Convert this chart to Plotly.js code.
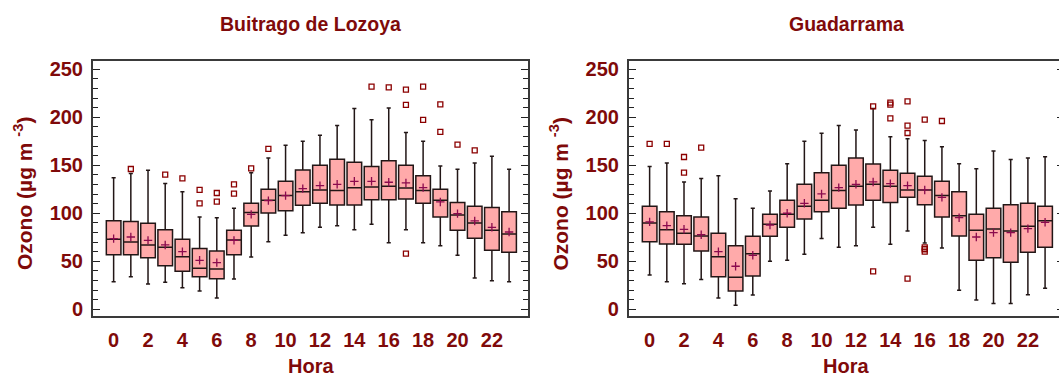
<!DOCTYPE html>
<html>
<head>
<meta charset="utf-8">
<script src="https://cdn.plot.ly/plotly-3.0.1.min.js"></script>
<style>
  html, body { margin: 0; padding: 0; background: #fff; overflow: hidden; }
  #chart { width: 1070px; height: 376px; }
</style>
</head>
<body>
<div id="chart"></div>
<script>
// Hourly ozone distributions (µg m-3) at two stations
const hours = [0,1,2,3,4,5,6,7,8,9,10,11,12,13,14,15,16,17,18,19,20,21,22,23];
const xTickVals = [0,2,4,6,8,10,12,14,16,18,20,22];
const yTickVals = [0,50,100,150,200,250];

const stationA = "Buitrago de Lozoya";
const stationB = "Guadarrama";

// Buitrago de Lozoya
const aLow    = [28.8,34.0,26.4,28.1,22.5,19.1,11.8,31.6,54.5,70.4,77.1,79.8,85.4,87.1,82.9,88.5,69.4,82.9,69.4,66.3,56.2,32.6,29.8,28.8];
const aQ1     = [56.9,56.9,53.8,45.4,39.5,34.0,31.9,56.9,86.8,100.3,102.7,108.3,110.4,108.6,108.6,114.2,114.2,114.9,110.4,96.1,82.3,73.9,61.4,59.3];
const aMedian = [72.9,70.1,67.0,64.5,54.8,42.7,42.0,72.2,100.7,113.5,118.4,122.5,124.3,123.6,126.7,127.4,128.1,126.4,123.6,113.5,98.2,89.9,82.3,78.4];
const aQ3     = [92.3,91.3,89.6,82.9,72.9,63.2,60.7,82.3,110.4,125.0,133.3,145.1,150.0,156.2,153.1,148.6,154.8,150.0,139.2,125.0,111.1,107.3,105.9,101.7];
const aHigh   = [137.1,141.3,144.8,130.9,122.5,96.1,95.4,105.2,142.3,157.6,170.8,175.0,181.2,191.3,209.0,197.5,209.7,184.0,175.0,149.3,145.8,152.4,159.3,145.8];
const aMean   = [73.6,75.3,71.8,67.0,60.0,51.0,48.6,71.8,98.9,113.2,118.4,125.7,128.8,130.2,133.3,133.3,132.3,131.6,126.7,111.8,99.6,92.0,85.4,80.5];
const aOutX   = [1,3,4,5,5,6,6,7,7,8,9,15,16,17,17,17,18,18,19,19,20,21];
const aOutY   = [146.1,140.2,136.4,124.3,110.4,121.1,112.1,130.2,120.4,146.8,167.0,231.9,231.2,228.8,212.8,57.9,231.9,197.2,213.5,184.7,171.5,165.6];

// Guadarrama
const bLow    = [35.7,28.8,26.7,30.9,11.8,4.1,14.9,50.0,51.0,57.3,73.6,64.5,66.3,85.4,67.7,81.6,69.1,63.9,19.8,9.7,5.9,5.9,15.2,21.8];
const bQ1     = [70.4,68.0,67.7,60.7,34.0,19.1,34.7,76.0,85.4,94.1,101.7,105.2,108.6,113.5,111.1,116.6,109.0,96.1,76.4,51.0,53.8,48.9,59.3,64.5];
const bMedian = [89.9,82.9,79.1,76.4,54.8,33.3,57.9,88.5,98.9,107.3,113.5,123.6,128.1,130.2,128.1,124.3,124.3,118.4,97.5,82.3,83.6,81.6,86.4,92.3];
const bQ3     = [107.3,101.7,97.5,96.1,79.1,66.3,76.0,98.9,113.5,130.2,142.3,150.0,157.6,151.4,144.8,141.6,138.5,133.3,122.5,98.9,105.2,109.0,110.4,107.3];
const bHigh   = [148.6,152.4,132.6,136.1,139.2,115.2,105.2,123.2,151.7,175.0,183.3,191.3,186.8,209.0,179.8,177.7,175.7,169.4,151.7,146.5,164.9,155.9,157.6,159.0];
const bMean   = [91.0,87.1,83.3,77.7,60.0,44.8,56.2,87.8,100.0,110.4,120.1,126.7,130.2,132.6,130.9,128.8,124.3,116.6,95.4,75.3,79.8,79.8,84.0,90.6];
const bOutX   = [0,1,2,2,3,13,13,14,14,14,15,15,15,15,16,16,16,16,17];
const bOutY   = [172.2,172.2,158.6,142.3,168.4,211.4,39.5,215.2,213.2,198.9,216.6,191.3,183.6,31.9,197.5,64.5,62.5,60.0,196.1];

const dark = '#7f0a0a';
const fontFam = '"Liberation Sans", Arial, sans-serif';

function boxTrace(xa, ya, lo, q1, med, q3, hi) {
  return {
    type: 'box', x: hours, q1: q1, median: med, q3: q3,
    lowerfence: lo, upperfence: hi, boxpoints: false,
    width: 0.85, whiskerwidth: 0.28,
    fillcolor: '#ffaaaa', line: { color: '#221616', width: 1.5 },
    xaxis: xa, yaxis: ya, hoverinfo: 'skip'
  };
}
function meanTrace(xa, ya, m) {
  return {
    type: 'scatter', mode: 'markers', x: hours, y: m, xaxis: xa, yaxis: ya,
    marker: { symbol: 'cross-thin', size: 6, line: { color: '#8b0a4e', width: 1.3 } },
    hoverinfo: 'skip'
  };
}
function outlierTrace(xa, ya, ox, oy) {
  return {
    type: 'scatter', mode: 'markers', x: ox, y: oy, xaxis: xa, yaxis: ya,
    marker: { symbol: 'square-open', size: 5, color: '#8b0000', line: { width: 1.3 } },
    hoverinfo: 'skip'
  };
}

const traces = [
  boxTrace('x', 'y', aLow, aQ1, aMedian, aQ3, aHigh),
  meanTrace('x', 'y', aMean),
  outlierTrace('x', 'y', aOutX, aOutY),
  boxTrace('x2', 'y2', bLow, bQ1, bMedian, bQ3, bHigh),
  meanTrace('x2', 'y2', bMean),
  outlierTrace('x2', 'y2', bOutX, bOutY)
];

function xAxis(domain) {
  return {
    domain: domain, range: [-1.2, 24.1], showgrid: false, zeroline: false,
    showline: true, linecolor: '#3a3a3a', linewidth: 2, mirror: true,
    ticks: '', tickmode: 'array', tickvals: xTickVals,
    ticktext: xTickVals.map(String), ticklabelstandoff: 5,
    tickfont: { family: fontFam, size: 20, color: dark, weight: 'bold' }
  };
}
function yAxis(anchor) {
  return {
    anchor: anchor, range: [-7, 258.6], showgrid: false, zeroline: false,
    showline: true, linecolor: '#3a3a3a', linewidth: 2, mirror: 'ticks',
    ticks: 'inside', ticklen: 7, tickwidth: 1.5, tickcolor: '#222',
    tickmode: 'array', tickvals: yTickVals, ticktext: yTickVals.map(String),
    ticklabelstandoff: 4,
    minor: { dtick: 10, tick0: 0, ticks: 'inside', ticklen: 5, tickwidth: 1, tickcolor: '#222' },
    tickfont: { family: fontFam, size: 20, color: dark, weight: 'bold' }
  };
}

const domA = [0, 0.448];
const domB = [0.552, 1];
const midA = (domA[0] + domA[1]) / 2;
const midB = (domB[0] + domB[1]) / 2;
const yTitle = 'Ozono (µg m <sup>-3</sup>)';

const annFont = { family: fontFam, color: dark, weight: 'bold' };
const layout = {
  width: 1070, height: 376,
  margin: { l: 93, r: 6, t: 61, b: 60 },
  paper_bgcolor: '#fff', plot_bgcolor: '#fff',
  showlegend: false,
  xaxis: xAxis(domA), yaxis: yAxis('x'),
  xaxis2: xAxis(domB), yaxis2: yAxis('x2'),
  annotations: [
    { text: stationA, x: midA, y: 1.145, xref: 'paper', yref: 'paper', showarrow: false,
      xanchor: 'center', yanchor: 'middle', font: Object.assign({ size: 19.5 }, annFont) },
    { text: stationB, x: midB, y: 1.145, xref: 'paper', yref: 'paper', showarrow: false,
      xanchor: 'center', yanchor: 'middle', font: Object.assign({ size: 19.5 }, annFont) },
    { text: 'Hora', x: midA, y: -0.197, xref: 'paper', yref: 'paper', showarrow: false,
      xanchor: 'center', yanchor: 'middle', font: Object.assign({ size: 20 }, annFont) },
    { text: 'Hora', x: midB, y: -0.197, xref: 'paper', yref: 'paper', showarrow: false,
      xanchor: 'center', yanchor: 'middle', font: Object.assign({ size: 20 }, annFont) },
    { text: yTitle, x: -0.0726, y: 0.48, xref: 'paper', yref: 'paper', showarrow: false,
      textangle: -90, xanchor: 'center', yanchor: 'middle', font: Object.assign({ size: 21 }, annFont) },
    { text: yTitle, x: 0.4799, y: 0.48, xref: 'paper', yref: 'paper', showarrow: false,
      textangle: -90, xanchor: 'center', yanchor: 'middle', font: Object.assign({ size: 21 }, annFont) }
  ]
};

Plotly.newPlot('chart', traces, layout, { displayModeBar: false, staticPlot: true });
</script>
</body>
</html>
